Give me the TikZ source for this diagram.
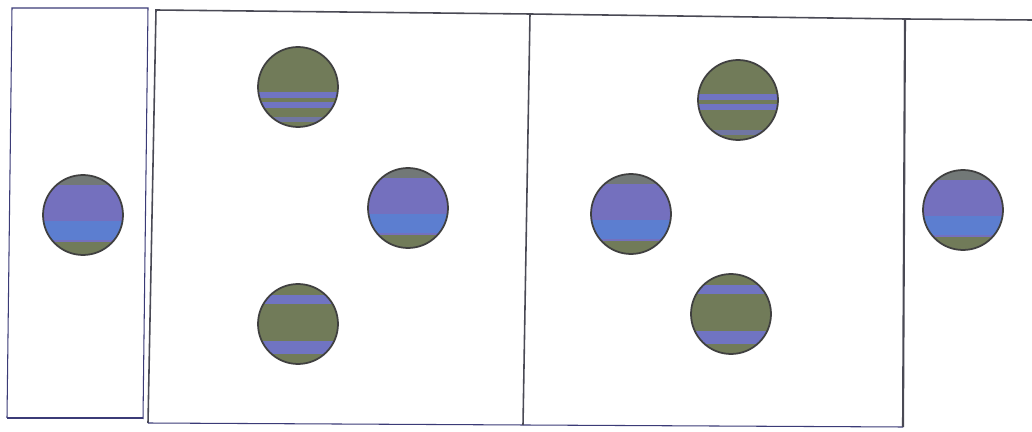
\documentclass[tikz,border=0pt]{standalone}
\usepackage{tikz}
\usetikzlibrary{positioning}
\definecolor{olivefill}{HTML}{717B59}
\definecolor{bandblue}{HTML}{7074C2}
\definecolor{ballblue}{HTML}{7470BE}
\definecolor{lightblue}{HTML}{5C7ED0}
\definecolor{edgegrey}{HTML}{4A4A55}
\tikzset{
  wall/.style={draw=edgegrey, line width=0.9pt},
  thinwall/.style={draw=edgegrey!80!blue, line width=0.6pt},
  ball/.style={circle, draw=black!75, line width=1pt, minimum size=1.6cm, inner sep=0pt},
  % green ball, blue bands across the middle
  greenmid/.style={ball, fill=olivefill,
    path picture={
      \fill[bandblue] ([yshift=#1]path picture bounding box.west) rectangle ([yshift=#1-0.12cm]path picture bounding box.east);
      \fill[bandblue] ([yshift=#1-0.2cm]path picture bounding box.west) rectangle ([yshift=#1-0.32cm]path picture bounding box.east);
      \fill[bandblue!70!olivefill] ([yshift=-0.6cm]path picture bounding box.west) rectangle ([yshift=-0.7cm]path picture bounding box.east);
    }},
  % green ball, blue bands near top and bottom
  greenends/.style={ball, fill=olivefill,
    path picture={
      \fill[bandblue] ([yshift=0.58cm]path picture bounding box.west) rectangle ([yshift=0.4cm]path picture bounding box.east);
      \fill[bandblue] ([yshift=-0.34cm]path picture bounding box.west) rectangle ([yshift=-0.6cm]path picture bounding box.east);
    }},
  blueball/.style={ball, fill=ballblue,
    path picture={
      \fill[olivefill!70!ballblue] (path picture bounding box.north west) rectangle ([yshift=-0.2cm]path picture bounding box.north east);
      \fill[lightblue] ([yshift=-0.12cm]path picture bounding box.west) rectangle ([yshift=-0.5cm]path picture bounding box.east);
      \fill[olivefill] ([yshift=-0.54cm]path picture bounding box.west) rectangle (path picture bounding box.south east);
    }}
}
\begin{document}
\begin{tikzpicture}[x=0.02cm, y=-0.02cm]
\useasboundingbox[fill=white] (0,0) rectangle (1032,432);
% outer walls
\draw[thinwall] (7,418) -- (12,8) -- (148,8) -- (143,419);
\draw[thinwall] (7,418) -- (143,418);
\draw[wall] (148,423) -- (156,10) -- (530,14) -- (905,19) -- (1032,20);
\draw[thinwall] (148,423) -- (903,427);
% dividers
\draw[wall] (530,14) -- (523,425);
\draw[wall, line width=1.2pt] (905,19) -- (903,427);
% balls
\node[blueball] (b1) at (83,215) {};
\node[greenmid=-0.1cm] (g1) at (298,87) {};
\node[blueball] (b2) at (408,208) {};
\node[greenends] (g2) at (298,324) {};
\node[greenmid=0.12cm] (g3) at (738,100) {};
\node[blueball] (b3) at (631,214) {};
\node[greenends] (g4) at (731,314) {};
\node[blueball] (b4) at (963,210) {};
\end{tikzpicture}
\end{document}
